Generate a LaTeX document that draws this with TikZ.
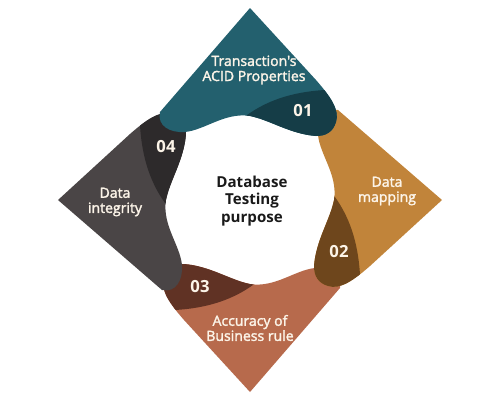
\documentclass[tikz,border=0pt]{standalone}
\usepackage{fontspec}
\setmainfont{Open Sans}
\newfontfamily\petalFont{Open Sans}[FakeBold=2]
\usetikzlibrary{positioning}
\definecolor{acidColor}{RGB}{35,96,110}
\definecolor{acidDark}{RGB}{21,61,71}
\definecolor{mappingColor}{RGB}{193,132,58}
\definecolor{mappingDark}{RGB}{110,70,28}
\definecolor{accuracyColor}{RGB}{183,106,76}
\definecolor{accuracyDark}{RGB}{96,50,36}
\definecolor{integrityColor}{RGB}{74,69,70}
\definecolor{integrityDark}{RGB}{45,42,43}
\definecolor{labelColor}{RGB}{252,244,232}
\definecolor{purposeColor}{RGB}{25,25,25}
\tikzset{petalText/.style={text=labelColor, align=center, font=\petalFont\fontsize{8}{8.6}\selectfont}}
\tikzset{stepNumber/.style={text=labelColor, font=\bfseries\fontsize{9.5}{10}\selectfont}}
\tikzset{purposeText/.style={text=purposeColor, align=center, font=\bfseries\fontsize{8.6}{10.2}\selectfont}}
% one petal, pointing up, drawn round the centre
\newcommand{\petalOutline}{(0,192) -- (66,120)
  .. controls (80,104) and (90,90) .. (86,78)
  .. controls (83,68) and (76,64) .. (66,64)
  .. controls (40,66) and (20,80) .. (0,84)
  .. controls (-25,88) and (-45,70) .. (-65,68)
  .. controls (-80,67) and (-93,74) .. (-90,88) -- cycle}
\newcommand{\petalLobe}{(-14,76) .. controls (10,98) and (40,108) .. (75,110)
  -- (110,114) -- (110,40) -- (-14,40) -- cycle}
\newcommand{\drawPetal}[3]{%
  \begin{scope}[rotate=#1]
    \fill[#2] \petalOutline;
    \begin{scope}
      \clip \petalOutline;
      \fill[#3] \petalLobe;
    \end{scope}
  \end{scope}}

\begin{document}
\begin{tikzpicture}[x=0.02cm, y=0.02cm]
	\useasboundingbox (-250,-200) rectangle (250,200);
	% Petals
	\drawPetal{180}{accuracyColor}{accuracyDark}
	\drawPetal{-90}{mappingColor}{mappingDark}
	\drawPetal{90}{integrityColor}{integrityDark}
	\drawPetal{0}{acidColor}{acidDark}

	% Nodes
	\node (purpose) [purposeText] at (2,-1) {Database\\Testing\\purpose};
	\node (acid) [petalText] at (4,130) {Transaction's\\ACID Properties};
	\node (mapping) [petalText] at (137,9) {Data\\mapping};
	\node (accuracy) [petalText] at (0,-128) {Accuracy of\\Business rule};
	\node (integrity) [petalText] at (-135,-2) {Data\\integrity};
	\node (acidNum) [stepNumber] at (53,89) {01};
	\node (mappingNum) [stepNumber] at (89,-52) {02};
	\node (accuracyNum) [stepNumber] at (-50,-87) {03};
	\node (integrityNum) [stepNumber] at (-84,53) {04};
\end{tikzpicture}
\end{document}
